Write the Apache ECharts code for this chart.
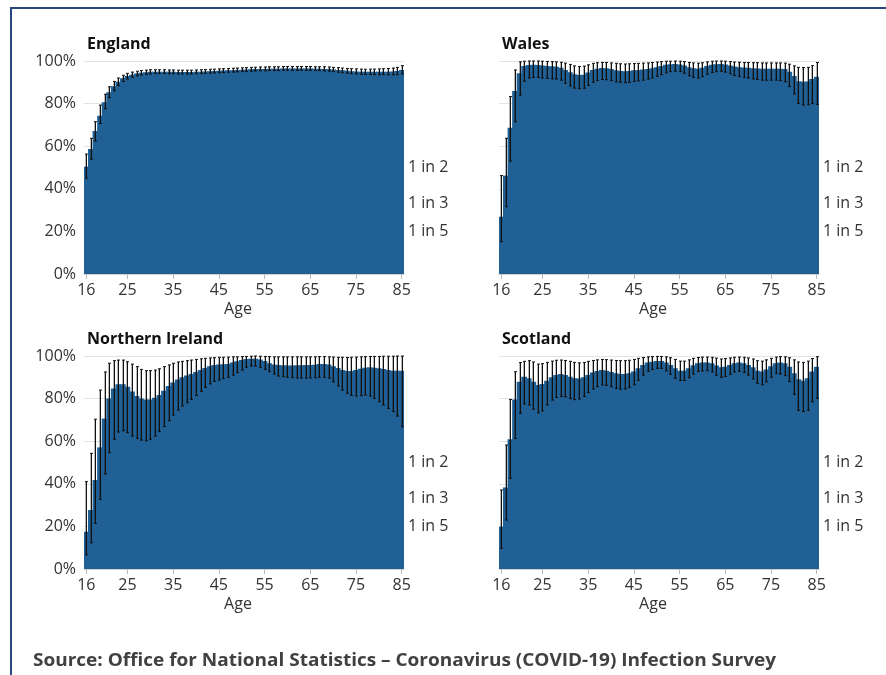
<!DOCTYPE html>
<html>
<head>
<meta charset="utf-8">
<script src="https://cdn.jsdelivr.net/npm/echarts@6/dist/echarts.min.js"></script>
<style>
  html, body { margin: 0; padding: 0; background: #fff; }
  #chart { width: 886px; height: 675px; }
</style>
</head>
<body>
<div id="chart"></div>
<script>
// Ages on the x axis (one bar per single year of age)
const ages = [16,17,18,19,20,21,22,23,24,25,26,27,28,29,30,31,32,33,34,35,
  36,37,38,39,40,41,42,43,44,45,46,47,48,49,50,51,52,53,54,55,
  56,57,58,59,60,61,62,63,64,65,66,67,68,69,70,71,72,73,74,75,
  76,77,78,79,80,81,82,83,84,85];
const xTickAges = [16,25,35,45,55,65,75,85];
const yTickValues = [0,20,40,60,80,100];
const oddsLabels = ['1 in 2','1 in 3','1 in 5'];
const oddsLevels = [50, 33.33, 20];

// England: modelled % testing positive for antibodies, with 95% credible intervals
const englandValues = [50.4,58.7,67.1,74.3,80.6,85.3,88.2,90.3,91.9,92.9,93.6,94.1,94.5,94.7,94.9,95.0,95.0,95.0,94.9,94.9,
  94.8,94.8,94.8,94.8,94.9,95.0,95.1,95.2,95.3,95.4,95.5,95.6,95.7,95.8,95.9,96.0,96.1,96.2,96.3,96.3,
  96.4,96.4,96.4,96.5,96.5,96.5,96.5,96.5,96.5,96.5,96.4,96.4,96.3,96.2,96.0,95.8,95.6,95.4,95.2,95.1,
  95.0,94.9,94.9,94.9,94.9,95.0,95.0,95.1,95.3,95.8];
const englandLow = [45.0,53.9,62.4,70.7,77.5,82.8,86.0,88.5,90.4,91.6,92.4,93.0,93.4,93.7,93.9,94.1,94.1,94.1,94.0,94.0,
  93.9,93.9,93.9,93.9,94.0,94.1,94.2,94.3,94.4,94.5,94.6,94.7,94.8,94.9,95.0,95.1,95.2,95.3,95.4,95.4,
  95.5,95.5,95.5,95.6,95.6,95.6,95.6,95.6,95.6,95.6,95.5,95.5,95.3,95.2,95.0,94.7,94.5,94.3,94.0,93.9,
  93.8,93.7,93.6,93.6,93.5,93.6,93.5,93.5,93.6,93.9];
const englandHigh = [56.3,63.7,71.5,79.3,84.4,87.9,90.4,92.0,93.3,94.2,94.8,95.2,95.5,95.7,95.9,95.9,95.9,95.9,95.8,95.8,
  95.7,95.7,95.7,95.7,95.8,95.9,96.0,96.1,96.2,96.3,96.4,96.5,96.6,96.7,96.8,96.9,97.0,97.1,97.2,97.2,
  97.3,97.3,97.3,97.4,97.4,97.4,97.4,97.4,97.4,97.4,97.3,97.3,97.3,97.2,97.0,96.9,96.7,96.5,96.4,96.3,
  96.2,96.1,96.2,96.2,96.3,96.4,96.5,96.7,97.0,97.8];

// Wales
const walesValues = [26.9,46.2,68.7,85.9,94.2,97.6,98.1,98.2,98.1,97.9,97.7,97.5,97.3,96.8,95.8,94.7,93.8,93.4,93.6,94.6,
  95.8,96.4,96.7,96.6,96.2,95.7,95.3,95.2,95.3,95.6,95.8,96.0,96.3,96.6,97.1,97.6,98.2,98.5,98.6,98.4,
  97.9,97.1,96.6,96.4,96.8,97.6,98.2,98.5,98.6,98.3,97.9,97.4,97.1,96.9,96.8,96.6,96.5,96.4,96.4,96.4,
  96.4,96.4,96.2,95.0,93.0,90.5,90.2,90.4,91.5,92.6];
const walesLow = [15.2,31.6,53.0,71.5,84.0,90.5,92.0,92.3,92.3,92.0,91.8,91.6,91.5,91.0,89.5,88.3,87.3,87.0,87.2,88.5,
  90.0,90.8,91.3,91.2,90.8,90.2,89.9,89.8,90.0,90.4,90.7,91.0,91.5,92.0,92.8,93.6,94.4,95.0,95.2,95.0,
  94.2,93.0,92.3,92.0,92.6,93.8,94.6,95.0,95.2,94.8,94.0,93.2,92.7,92.3,92.0,91.6,91.3,91.0,91.0,91.0,
  91.0,90.8,90.3,88.0,84.5,80.0,79.3,79.5,80.0,79.6];
const walesHigh = [46.2,63.7,83.3,95.8,99.6,99.9,100,100,100,99.9,99.8,99.7,99.6,99.4,99.0,98.4,97.7,97.4,97.6,98.2,
  98.9,99.2,99.3,99.3,99.1,98.9,98.7,98.6,98.7,98.8,98.9,99.0,99.1,99.3,99.5,99.7,99.9,99.9,100,99.9,
  99.7,99.3,99.1,99.0,99.2,99.6,99.9,100,100,99.9,99.7,99.5,99.4,99.3,99.3,99.2,99.2,99.1,99.1,99.1,
  99.1,99.1,99.0,98.5,97.7,97.0,96.9,97.0,97.8,99.3];

// Northern Ireland
const niValues = [17.5,27.7,41.8,57.1,70.7,80.1,84.8,86.7,86.7,85.6,83.3,81.2,80.1,79.6,79.6,80.4,81.7,83.7,85.9,87.6,
  89.0,90.0,90.8,91.5,92.5,93.4,94.4,95.2,95.8,96.0,96.1,96.3,96.9,97.5,98.1,98.6,98.7,98.7,98.4,97.7,
  96.6,96.0,95.8,95.6,95.5,95.5,95.6,95.6,95.8,95.8,95.9,96.3,96.3,96.0,95.2,94.4,93.4,92.9,92.9,93.4,
  94.0,94.5,94.7,94.5,94.2,93.9,93.4,93.1,93.1,93.1];
const niLow = [6.6,12.3,21.4,32.7,44.6,54.6,60.9,64.3,64.9,64.0,62.4,61.3,60.5,60.2,60.9,62.4,64.5,66.8,69.6,72.3,
  74.6,76.5,78.1,79.6,81.5,83.4,85.3,86.9,88.1,88.7,89.4,90.0,91.0,92.2,93.4,94.7,95.3,95.3,94.7,93.7,
  92.6,91.5,90.6,90.3,90.0,89.8,89.7,89.6,89.6,89.7,89.8,90.0,90.0,89.6,87.9,85.9,84.0,82.5,81.5,81.2,
  81.4,81.7,81.2,80.1,78.5,77.0,75.4,73.9,71.8,66.8];
const niHigh = [41.0,54.3,70.3,84.0,92.5,96.6,97.8,98.1,98.1,97.3,96.2,95.0,93.7,93.1,93.1,93.4,94.0,95.0,95.8,96.6,
  97.2,97.5,97.8,98.1,98.4,98.7,98.9,99.1,99.2,99.4,99.4,99.5,99.6,99.6,99.7,99.8,99.9,100,99.9,99.8,
  99.7,99.6,99.6,99.6,99.6,99.6,99.6,99.6,99.6,99.6,99.6,99.7,99.7,99.6,99.5,99.4,99.4,99.3,99.4,99.5,
  99.6,99.7,99.8,99.8,99.8,99.9,99.9,99.9,100,100];

// Scotland
const scotlandValues = [19.9,38.3,60.9,79.6,87.9,90.3,89.5,87.9,86.4,86.8,88.4,90.0,91.1,91.5,91.1,90.3,89.5,89.4,90.0,91.1,
  92.2,92.9,93.4,93.1,92.5,91.9,91.5,91.5,91.9,92.7,94.2,95.8,96.9,97.3,97.7,97.7,96.9,95.8,94.2,93.1,
  93.1,94.2,95.6,96.6,96.9,97.0,96.6,95.5,94.7,95.0,95.8,96.6,96.9,96.6,95.8,94.7,93.1,92.7,93.7,95.2,
  96.6,96.9,96.6,95.0,91.9,89.1,88.4,89.5,92.7,95.0];
const scotlandLow = [9.7,23.0,42.6,61.3,73.1,77.5,77.0,75.0,73.3,74.2,77.0,79.3,80.5,81.0,80.8,80.0,79.5,79.8,81.0,82.8,
  84.5,85.6,86.4,86.2,85.5,84.8,84.4,84.5,85.2,86.5,88.6,91.0,92.8,93.6,94.2,94.2,93.0,91.4,89.5,88.5,
  88.5,89.8,91.5,92.7,93.0,93.1,92.5,91.0,90.0,90.4,91.4,92.5,92.8,92.3,91.0,89.2,87.2,86.5,87.8,90.0,
  91.8,91.5,90.8,88.0,82.0,74.5,73.9,74.5,78.5,80.1];
const scotlandHigh = [37.1,58.2,79.6,92.6,96.9,97.5,97.8,97.2,96.2,96.4,97.0,97.6,98.0,98.1,97.9,97.5,97.0,96.8,97.0,97.5,
  97.9,98.2,98.4,98.3,98.1,97.9,97.8,97.8,98.0,98.4,98.9,99.3,99.6,99.7,99.8,99.8,99.6,99.2,98.4,97.6,
  97.6,98.2,98.9,99.3,99.5,99.5,99.4,99.0,98.6,98.8,99.1,99.4,99.5,99.4,99.1,98.6,97.8,97.6,98.2,98.9,
  99.5,99.7,99.6,99.2,98.2,97.2,97.0,97.6,98.8,99.7];

const sourceText = 'Source: Office for National Statistics \u2013 Coronavirus (COVID-19) Infection Survey';

const barColour = '#206095';
const textColour = '#333333';
const fontFamily = '"Open Sans", "Noto Sans", sans-serif';

const panels = [
  { name: 'England', values: englandValues, low: englandLow, high: englandHigh, left: 84, top: 61, showY: true },
  { name: 'Wales', values: walesValues, low: walesLow, high: walesHigh, left: 499, top: 61, showY: false },
  { name: 'Northern Ireland', values: niValues, low: niLow, high: niHigh, left: 84, top: 356, showY: true },
  { name: 'Scotland', values: scotlandValues, low: scotlandLow, high: scotlandHigh, left: 499, top: 356, showY: false }
];

const plotWidth = 320;
const plotHeight = 213;

const chart = echarts.init(document.getElementById('chart'), null, { renderer: 'canvas' });

// Error bar: a faint shadow stroke plus a dark stroke with small caps
function renderErrorBar(params, api) {
  const lo = api.coord([api.value(0), api.value(1)]);
  const hi = api.coord([api.value(0), api.value(2)]);
  const cx = Math.round(lo[0]) + 0.5;
  const capHalf = 1.5;
  return {
    type: 'group',
    children: [
      { type: 'line', shape: { x1: cx - 1, y1: hi[1], x2: cx - 1, y2: lo[1] },
        style: { stroke: 'rgba(0,0,0,0.28)', lineWidth: 1 } },
      { type: 'line', shape: { x1: cx, y1: hi[1], x2: cx, y2: lo[1] },
        style: { stroke: '#111', lineWidth: 1 } },
      { type: 'line', shape: { x1: cx - capHalf, y1: hi[1], x2: cx + capHalf, y2: hi[1] },
        style: { stroke: '#111', lineWidth: 1 } },
      { type: 'line', shape: { x1: cx - capHalf, y1: lo[1], x2: cx + capHalf, y2: lo[1] },
        style: { stroke: '#111', lineWidth: 1 } }
    ]
  };
}

const grids = [], xAxes = [], yAxes = [], series = [], titles = [];

panels.forEach((p, i) => {
  grids.push({ left: p.left, top: p.top, width: plotWidth, height: plotHeight, containLabel: false });
  titles.push({
    text: p.name, left: p.left + 3, top: p.top - 25, padding: 0,
    textStyle: { fontFamily, fontSize: 16, fontWeight: 'bold', color: '#111' }
  });
  xAxes.push({
    type: 'category', gridIndex: i, data: ages,
    boundaryGap: true,
    name: 'Age', nameLocation: 'middle', nameGap: 27,
    nameTextStyle: { fontFamily, fontSize: 16, color: textColour, padding: [0, 12, 0, 0] },
    axisLine: { show: true, lineStyle: { color: '#d0d0d0', width: 1 } },
    axisTick: {
      show: true, alignWithLabel: true, length: 5,
      lineStyle: { color: '#bbbbbb' },
      interval: (idx, val) => xTickAges.indexOf(Number(val)) >= 0
    },
    axisLabel: {
      fontFamily, fontSize: 16, color: textColour, margin: 8,
      interval: (idx, val) => xTickAges.indexOf(Number(val)) >= 0
    },
    splitLine: { show: false }
  });
  yAxes.push({
    type: 'value', gridIndex: i, min: 0, max: 100, interval: 20,
    axisLine: { show: false }, axisTick: { show: false },
    axisLabel: {
      show: p.showY, fontFamily, fontSize: 16, color: textColour, margin: 8,
      formatter: v => yTickValues.indexOf(v) >= 0 ? v + '%' : ''
    },
    splitLine: { show: true, lineStyle: { color: '#e3e3e3', width: 1 } }
  });
  // Bars overlap slightly so the fill reads as one continuous block
  series.push({
    type: 'bar', xAxisIndex: i, yAxisIndex: i, name: p.name,
    data: p.values,
    barWidth: '125%', barGap: '-100%',
    itemStyle: { color: barColour },
    silent: true,
    markLine: {
      silent: true, symbol: 'none',
      lineStyle: { color: 'rgba(0,0,0,0)', width: 1, type: 'solid' },
      label: {
        show: true, position: 'end', distance: 4,
        formatter: '{b}', fontFamily, fontSize: 16, color: textColour
      },
      emphasis: { disabled: true },
      data: oddsLabels.map((lab, k) => ({ name: lab, yAxis: oddsLevels[k] }))
    }
  });
  series.push({
    type: 'custom', xAxisIndex: i, yAxisIndex: i, name: p.name + ' interval',
    renderItem: renderErrorBar,
    encode: { x: 0, y: [1, 2] },
    data: p.values.map((v, k) => [k, p.low[k], p.high[k]]),
    z: 5, silent: true
  });
});

// Fit the source line to its width using a measured text run
const measureCtx = document.createElement('canvas').getContext('2d');
measureCtx.font = 'bold 18px "Open Sans"';
const measured = measureCtx.measureText(sourceText).width;
const sourceScale = measured > 0 ? 743 / measured : 1;

chart.setOption({
  animation: false,
  backgroundColor: '#ffffff',
  title: titles,
  grid: grids,
  xAxis: xAxes,
  yAxis: yAxes,
  series: series,
  graphic: [
    {
      type: 'rect', silent: true, z: 10,
      shape: { x: 11, y: 8, width: 900, height: 700 },
      style: { fill: 'none', stroke: '#27477a', lineWidth: 2 }
    },
    {
      type: 'text', silent: true, x: 33, y: 661, scaleX: sourceScale,
      style: {
        text: sourceText, fill: '#414042',
        font: 'bold 18px "Open Sans"', textVerticalAlign: 'middle'
      }
    }
  ]
});
</script>
</body>
</html>
